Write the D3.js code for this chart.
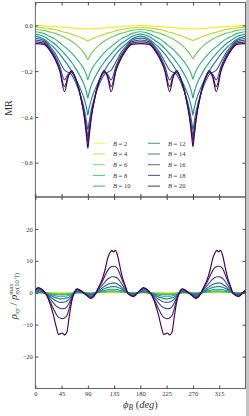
<!DOCTYPE html>
<html>
<head>
<meta charset="utf-8">
<script src="https://cdn.jsdelivr.net/npm/d3@7"></script>
<style>
  body { margin: 0; background: #fff; }
  svg text { font-family: "Liberation Serif", "DejaVu Serif", serif; fill: #333; }
</style>
</head>
<body>
<div id="chart"></div>
<script>
// field values (T), one curve each
const fields = [2, 4, 6, 8, 10, 12, 14, 16, 18, 20];

// top panel: MR vs phi_B
const mrAngles = [0, 15, 25, 33, 42, 50, 56, 62, 70, 78, 84, 88, 90,
  92, 96, 102, 110, 118, 124, 130, 138, 147, 155, 165, 180,
  195, 205, 213, 222, 230, 236, 242, 250, 258, 264, 268, 270,
  272, 276, 282, 290, 298, 304, 310, 318, 327, 335, 345, 360];

const mrB2 = [0, -0.002, -0.004, -0.005, -0.007, -0.009, -0.010, -0.011, -0.013, -0.014, -0.015, -0.016, -0.016,
  -0.016, -0.015, -0.014, -0.013, -0.011, -0.010, -0.009, -0.007, -0.005, -0.004, -0.002, 0,
  -0.002, -0.004, -0.005, -0.007, -0.009, -0.010, -0.011, -0.013, -0.014, -0.015, -0.016, -0.016,
  -0.016, -0.015, -0.014, -0.013, -0.011, -0.010, -0.009, -0.007, -0.005, -0.004, -0.002, 0];
const mrB4 = [-0.008, -0.011, -0.014, -0.018, -0.024, -0.030, -0.034, -0.039, -0.045, -0.054, -0.060, -0.066, -0.068,
  -0.066, -0.060, -0.054, -0.045, -0.039, -0.034, -0.030, -0.024, -0.018, -0.014, -0.011, -0.008,
  -0.011, -0.014, -0.018, -0.024, -0.030, -0.034, -0.039, -0.045, -0.054, -0.060, -0.064, -0.066,
  -0.064, -0.060, -0.054, -0.045, -0.039, -0.034, -0.030, -0.024, -0.018, -0.014, -0.011, -0.008];
const mrB6 = [-0.018, -0.022, -0.029, -0.034, -0.043, -0.052, -0.060, -0.069, -0.084, -0.104, -0.122, -0.141, -0.150,
  -0.141, -0.122, -0.104, -0.084, -0.069, -0.060, -0.052, -0.043, -0.034, -0.029, -0.022, -0.018,
  -0.022, -0.029, -0.034, -0.043, -0.052, -0.060, -0.069, -0.084, -0.104, -0.122, -0.138, -0.146,
  -0.138, -0.122, -0.104, -0.084, -0.069, -0.060, -0.052, -0.043, -0.034, -0.029, -0.022, -0.018];
const mrB8 = [-0.028, -0.036, -0.049, -0.059, -0.076, -0.093, -0.105, -0.120, -0.143, -0.170, -0.195, -0.220, -0.237,
  -0.220, -0.195, -0.170, -0.143, -0.120, -0.105, -0.093, -0.076, -0.059, -0.049, -0.036, -0.028,
  -0.036, -0.049, -0.059, -0.076, -0.093, -0.105, -0.120, -0.143, -0.170, -0.195, -0.219, -0.235,
  -0.219, -0.195, -0.170, -0.143, -0.120, -0.105, -0.093, -0.076, -0.059, -0.049, -0.036, -0.028];
const mrB10 = [-0.038, -0.049, -0.066, -0.080, -0.102, -0.124, -0.141, -0.161, -0.191, -0.228, -0.261, -0.295, -0.317,
  -0.295, -0.261, -0.228, -0.191, -0.161, -0.141, -0.124, -0.102, -0.080, -0.066, -0.049, -0.038,
  -0.049, -0.066, -0.080, -0.102, -0.124, -0.141, -0.161, -0.191, -0.228, -0.261, -0.295, -0.317,
  -0.295, -0.261, -0.228, -0.191, -0.161, -0.141, -0.124, -0.102, -0.080, -0.066, -0.049, -0.038];
const mrB12 = [-0.047, -0.061, -0.082, -0.099, -0.126, -0.154, -0.175, -0.199, -0.237, -0.282, -0.323, -0.364, -0.392,
  -0.364, -0.323, -0.282, -0.237, -0.199, -0.175, -0.154, -0.126, -0.099, -0.082, -0.061, -0.047,
  -0.061, -0.082, -0.099, -0.126, -0.154, -0.175, -0.199, -0.237, -0.282, -0.323, -0.364, -0.392,
  -0.364, -0.323, -0.282, -0.237, -0.199, -0.175, -0.154, -0.126, -0.099, -0.082, -0.061, -0.047];
const mrB14 = [-0.056, -0.066, -0.092, -0.118, -0.160, -0.196, -0.205, -0.215, -0.255, -0.310, -0.368, -0.425, -0.455,
  -0.425, -0.368, -0.310, -0.255, -0.215, -0.205, -0.196, -0.160, -0.118, -0.092, -0.066, -0.056,
  -0.066, -0.092, -0.118, -0.160, -0.196, -0.205, -0.215, -0.255, -0.310, -0.368, -0.425, -0.457,
  -0.425, -0.368, -0.310, -0.255, -0.215, -0.205, -0.196, -0.160, -0.118, -0.092, -0.066, -0.056];
const mrB16 = [-0.064, -0.072, -0.100, -0.130, -0.180, -0.238, -0.214, -0.206, -0.242, -0.312, -0.385, -0.452, -0.487,
  -0.452, -0.385, -0.312, -0.242, -0.206, -0.214, -0.238, -0.180, -0.130, -0.100, -0.072, -0.064,
  -0.072, -0.100, -0.130, -0.180, -0.238, -0.214, -0.206, -0.242, -0.312, -0.385, -0.452, -0.485,
  -0.452, -0.385, -0.312, -0.242, -0.206, -0.214, -0.238, -0.180, -0.130, -0.100, -0.072, -0.064];
const mrB18 = [-0.072, -0.078, -0.106, -0.138, -0.192, -0.268, -0.222, -0.203, -0.240, -0.315, -0.395, -0.472, -0.510,
  -0.472, -0.395, -0.315, -0.240, -0.203, -0.222, -0.268, -0.192, -0.138, -0.106, -0.078, -0.072,
  -0.078, -0.106, -0.138, -0.192, -0.268, -0.222, -0.203, -0.240, -0.315, -0.395, -0.470, -0.506,
  -0.470, -0.395, -0.315, -0.240, -0.203, -0.222, -0.268, -0.192, -0.138, -0.106, -0.078, -0.072];
const mrB20 = [-0.080, -0.083, -0.110, -0.145, -0.200, -0.290, -0.228, -0.198, -0.238, -0.318, -0.402, -0.492, -0.537,
  -0.492, -0.402, -0.318, -0.238, -0.198, -0.228, -0.290, -0.200, -0.145, -0.110, -0.083, -0.080,
  -0.083, -0.110, -0.145, -0.200, -0.290, -0.228, -0.198, -0.238, -0.318, -0.402, -0.488, -0.530,
  -0.488, -0.402, -0.318, -0.238, -0.198, -0.228, -0.290, -0.200, -0.145, -0.110, -0.083, -0.080];
const mrSeries = [mrB2, mrB4, mrB6, mrB8, mrB10, mrB12, mrB14, mrB16, mrB18, mrB20];

// bottom panel: normalised Hall resistivity vs phi_B
const rhoAngles = [0, 5, 11, 19, 25, 31, 36, 40, 43, 46, 50, 54, 58, 62, 66, 72, 80, 88, 95, 102,
  108, 114, 120, 124, 128, 131, 134, 137, 141, 145, 149, 154, 159, 168, 176,
  180, 185, 191, 199, 205, 211, 216, 220, 223, 226, 230, 234, 238, 242, 246, 252, 260, 268, 275, 282,
  288, 294, 300, 304, 308, 311, 314, 317, 321, 325, 329, 334, 339, 348, 356, 360];

const rhoB2 = [0, 0, 0, -0.01, -0.02, -0.03, -0.04, -0.04, -0.04, -0.04, -0.04, -0.04, -0.03, -0.02, -0.01, 0, 0, 0, -0.01, 0,
  0.01, 0.02, 0.03, 0.04, 0.04, 0.04, 0.04, 0.04, 0.04, 0.03, 0.02, 0.01, 0, 0, 0,
  0, 0, 0, -0.01, -0.02, -0.03, -0.04, -0.04, -0.04, -0.04, -0.04, -0.04, -0.03, -0.02, -0.01, 0, 0, 0, -0.01, 0,
  0.01, 0.02, 0.03, 0.04, 0.04, 0.04, 0.04, 0.04, 0.04, 0.03, 0.02, 0.01, 0, 0, 0, 0];
const rhoB4 = [0.02, 0.02, 0, -0.03, -0.07, -0.11, -0.14, -0.15, -0.15, -0.15, -0.15, -0.14, -0.11, -0.07, -0.03, 0, 0, -0.02, -0.04, -0.02,
  0.03, 0.07, 0.11, 0.14, 0.15, 0.15, 0.15, 0.15, 0.14, 0.11, 0.07, 0.04, 0, -0.02, 0,
  0.02, 0.02, 0, -0.03, -0.07, -0.11, -0.14, -0.15, -0.15, -0.15, -0.15, -0.14, -0.11, -0.07, -0.03, 0, 0, -0.02, -0.04, -0.02,
  0.03, 0.07, 0.11, 0.14, 0.15, 0.15, 0.15, 0.15, 0.14, 0.11, 0.07, 0.04, 0, -0.02, 0, 0.02];
const rhoB6 = [0.05, 0.05, 0, -0.05, -0.15, -0.22, -0.27, -0.3, -0.3, -0.3, -0.3, -0.27, -0.22, -0.15, -0.05, 0, 0, -0.05, -0.08, -0.03,
  0.05, 0.15, 0.22, 0.27, 0.3, 0.3, 0.3, 0.3, 0.27, 0.22, 0.15, 0.08, 0, -0.05, 0,
  0.05, 0.05, 0, -0.05, -0.15, -0.22, -0.27, -0.3, -0.3, -0.3, -0.3, -0.27, -0.22, -0.15, -0.05, 0, 0, -0.05, -0.08, -0.03,
  0.05, 0.15, 0.22, 0.27, 0.3, 0.3, 0.3, 0.3, 0.27, 0.22, 0.15, 0.08, 0, -0.05, 0, 0.05];
const rhoB8 = [0.1, 0.1, 0, -0.1, -0.3, -0.45, -0.55, -0.6, -0.6, -0.6, -0.6, -0.55, -0.45, -0.3, -0.1, 0.05, 0, -0.1, -0.15, -0.05,
  0.1, 0.3, 0.45, 0.55, 0.6, 0.6, 0.6, 0.6, 0.55, 0.45, 0.3, 0.15, 0, -0.1, 0,
  0.1, 0.1, 0, -0.1, -0.3, -0.45, -0.55, -0.6, -0.6, -0.6, -0.6, -0.55, -0.45, -0.3, -0.1, 0.05, 0, -0.1, -0.15, -0.05,
  0.1, 0.3, 0.45, 0.55, 0.6, 0.6, 0.6, 0.6, 0.55, 0.45, 0.3, 0.15, 0, -0.1, 0, 0.1];
const rhoB10 = [0.2, 0.2, 0.1, -0.2, -0.5, -0.8, -1.0, -1.1, -1.1, -1.1, -1.1, -1.0, -0.8, -0.5, -0.2, 0.1, 0, -0.2, -0.3, -0.1,
  0.2, 0.5, 0.8, 1.0, 1.1, 1.1, 1.1, 1.1, 1.0, 0.8, 0.6, 0.3, 0, -0.2, 0,
  0.2, 0.2, 0.1, -0.2, -0.5, -0.8, -1.0, -1.1, -1.1, -1.1, -1.1, -1.0, -0.8, -0.5, -0.2, 0.1, 0, -0.2, -0.3, -0.1,
  0.2, 0.5, 0.8, 1.0, 1.1, 1.1, 1.1, 1.1, 1.0, 0.8, 0.6, 0.3, 0, -0.2, 0, 0.2];
const rhoB12 = [0.3, 0.4, 0.2, -0.3, -0.8, -1.3, -1.6, -1.8, -1.9, -1.9, -1.8, -1.6, -1.3, -0.8, -0.3, 0.3, 0.1, -0.3, -0.5, -0.2,
  0.4, 0.9, 1.4, 1.7, 1.8, 1.9, 1.9, 1.9, 1.7, 1.4, 1.0, 0.5, 0, -0.3, 0,
  0.3, 0.4, 0.2, -0.3, -0.8, -1.3, -1.6, -1.8, -1.9, -1.9, -1.8, -1.6, -1.3, -0.8, -0.3, 0.3, 0.1, -0.3, -0.5, -0.2,
  0.4, 0.9, 1.4, 1.7, 1.8, 1.9, 1.9, 1.9, 1.7, 1.4, 1.0, 0.5, 0, -0.3, 0, 0.3];
const rhoB14 = [0.4, 0.7, 0.4, -0.4, -1.2, -2.0, -2.6, -2.9, -3.0, -3.0, -2.9, -2.6, -2.0, -1.1, -0.3, 0.5, 0.2, -0.4, -0.8, -0.3,
  0.6, 1.4, 2.2, 2.6, 2.9, 3.0, 3.0, 3.0, 2.7, 2.2, 1.5, 0.7, -0.1, -0.5, 0,
  0.4, 0.7, 0.4, -0.4, -1.2, -2.0, -2.6, -2.9, -3.0, -3.0, -2.9, -2.6, -2.0, -1.1, -0.3, 0.5, 0.2, -0.4, -0.8, -0.3,
  0.6, 1.4, 2.2, 2.6, 2.9, 3.0, 3.0, 3.0, 2.7, 2.2, 1.5, 0.7, -0.1, -0.5, 0, 0.4];
const rhoB16 = [0.6, 1.1, 0.7, -0.5, -1.8, -3.2, -4.2, -4.7, -4.9, -5.0, -4.9, -4.4, -3.2, -1.6, -0.3, 0.8, 0.3, -0.6, -1.2, -0.4,
  1.0, 2.2, 3.5, 4.3, 4.8, 5.0, 5.0, 4.9, 4.5, 3.6, 2.5, 1.1, -0.2, -0.8, 0.1,
  0.6, 1.1, 0.7, -0.5, -1.8, -3.2, -4.2, -4.7, -4.9, -5.0, -4.9, -4.4, -3.2, -1.6, -0.3, 0.8, 0.3, -0.6, -1.2, -0.4,
  1.0, 2.2, 3.5, 4.3, 4.8, 5.0, 5.0, 4.9, 4.5, 3.6, 2.5, 1.1, -0.2, -0.8, 0.1, 0.6];
const rhoB18 = [0.8, 1.4, 1.0, -0.5, -2.6, -5.0, -6.8, -7.7, -8.0, -8.1, -7.9, -7.2, -5.0, -2.2, -0.2, 1.1, 0.4, -0.8, -1.6, -0.6,
  1.4, 3.2, 5.6, 7.0, 7.9, 8.2, 8.3, 8.2, 7.5, 5.8, 3.9, 1.8, -0.2, -1.1, 0.1,
  0.8, 1.4, 1.0, -0.5, -2.6, -5.0, -6.8, -7.7, -8.0, -8.1, -7.9, -7.2, -5.0, -2.2, -0.2, 1.1, 0.4, -0.8, -1.6, -0.6,
  1.4, 3.2, 5.6, 7.0, 7.9, 8.2, 8.3, 8.2, 7.5, 5.8, 3.9, 1.8, -0.2, -1.1, 0.1, 0.8];
const rhoB20 = [0.9, 1.6, 1.1, -0.6, -3.3, -7.0, -10.8, -13.1, -12.8, -12.6, -13.2, -12.4, -7.6, -3.0, -0.3, 1.2, 0.4, -0.8, -1.8, -0.7,
  1.6, 3.9, 7.6, 10.8, 12.6, 13.3, 12.8, 13.3, 11.6, 8.2, 5.0, 2.2, -0.2, -1.2, 0.1,
  0.9, 1.6, 1.1, -0.6, -3.3, -7.0, -10.8, -13.1, -12.8, -12.6, -13.2, -12.4, -7.6, -3.0, -0.3, 1.2, 0.4, -0.8, -1.8, -0.7,
  1.6, 3.9, 7.6, 10.8, 12.6, 13.3, 12.8, 13.3, 11.6, 8.2, 5.0, 2.2, -0.2, -1.2, 0.1, 0.9];
const rhoSeries = [rhoB2, rhoB4, rhoB6, rhoB8, rhoB10, rhoB12, rhoB14, rhoB16, rhoB18, rhoB20];

const xTicks = [0, 45, 90, 135, 180, 225, 270, 315];
const mrTicks = [-0.6, -0.4, -0.2, 0.0];
const rhoTicks = [-20, -10, 0, 10, 20];

const W = 249, H = 416;
const left = 35.3, right = 245.5;
const topY0 = 2.5, midY = 197, botY = 388.5;

const svg = d3.select("#chart").append("svg")
  .attr("width", W).attr("height", H);

svg.append("rect").attr("x", 246).attr("y", 0).attr("width", 3).attr("height", H).attr("fill", "#c4c4c4");

const x = d3.scaleLinear().domain([0, 360]).range([left, right]);
const yMR = d3.scaleLinear().domain([-0.75, 0.1]).range([midY, topY0]);
const yRho = d3.scaleLinear().domain([-30, 30]).range([botY, midY]);

const color = (i) => d3.interpolateViridis(1 - i / 9);

function panel(y, angles, series, ticks, fmt, y0, y1, showX, id) {
  const g = svg.append("g");
  svg.append("clipPath").attr("id", id).append("rect")
    .attr("x", left).attr("y", y0).attr("width", right - left).attr("height", y1 - y0);

  const line = (vals) => d3.line()
    .x((d, i) => x(angles[i]))
    .y(d => y(d))
    .curve(d3.curveMonotoneX)(vals);

  g.append("g").attr("clip-path", `url(#${id})`)
    .selectAll("path").data(series).join("path")
    .attr("d", line)
    .attr("fill", "none")
    .attr("stroke", (d, i) => color(i))
    .attr("stroke-width", 1.15);

  const ax = (a, tx, ty) => {
    const s = g.append("g").attr("transform", `translate(${tx},${ty})`).call(a);
    s.select(".domain").remove();
    s.attr("color", "#444").attr("font-size", 6.5).attr("font-family", null);
    return s;
  };
  ax(d3.axisLeft(y).tickValues(ticks).tickFormat(fmt).tickSizeInner(-3).tickSizeOuter(0).tickPadding(2.5), left, 0);
  ax(d3.axisRight(y).tickValues(ticks).tickFormat("").tickSizeInner(-3).tickSizeOuter(0), right, 0);
  ax(d3.axisTop(x).tickValues(xTicks).tickFormat("").tickSizeInner(-3).tickSizeOuter(0), 0, y0);
  ax(d3.axisBottom(x).tickValues(xTicks).tickFormat(showX ? d3.format("d") : "")
    .tickSizeInner(-3).tickSizeOuter(0).tickPadding(3), 0, y1);

  g.append("rect").attr("x", left).attr("y", y0).attr("width", right - left).attr("height", y1 - y0)
    .attr("fill", "none").attr("stroke", "#444").attr("stroke-width", 0.8);
  return g;
}

panel(yMR, mrAngles, mrSeries, mrTicks, d3.format(".1f"), topY0, midY, false, "clipTop");
panel(yRho, rhoAngles, rhoSeries, rhoTicks, d3.format("d"), midY, botY, true, "clipBot");

// legend
const legend = svg.append("g");
fields.forEach((b, i) => {
  const col = Math.floor(i / 5), row = i % 5;
  const lx = col === 0 ? 93 : 148;
  const ly = 143.3 + row * 10.7;
  legend.append("line").attr("x1", lx).attr("x2", lx + 12).attr("y1", ly).attr("y2", ly)
    .attr("stroke", color(i)).attr("stroke-width", 1.1).attr("stroke-opacity", 0.8);
  const t = legend.append("text").attr("x", lx + 20).attr("y", ly + 2.2).attr("font-size", 6.5);
  t.append("tspan").attr("font-style", "italic").text("B");
  t.append("tspan").text(" = " + b);
});

// axis labels
svg.append("text")
  .attr("transform", `translate(12,108) rotate(-90)`)
  .attr("text-anchor", "middle").attr("font-size", 10).text("MR");

const rl = svg.append("text")
  .attr("transform", `translate(16.5,296) rotate(-90)`)
  .attr("text-anchor", "middle").attr("font-size", 10.5);
rl.append("tspan").attr("font-style", "italic").text("ρ");
rl.append("tspan").attr("font-style", "italic").attr("font-size", 7).attr("dy", 2).text("xy");
rl.append("tspan").attr("dy", -2).text(" / ");
rl.append("tspan").attr("font-style", "italic").text("ρ");
const sup = rl.append("tspan").attr("font-size", 6.5).attr("dy", -4).text("max");
const subA = rl.append("tspan").attr("font-style", "italic").attr("font-size", 6.5).attr("dy", 6.5).text("xy");
subA.attr("dx", -sup.node().getComputedTextLength());
rl.append("tspan").attr("font-size", 6.5).text("(10 T)");

const xl = svg.append("text")
  .attr("x", (left + right) / 2).attr("y", 407.5)
  .attr("text-anchor", "middle").attr("font-size", 10.5);
xl.append("tspan").attr("font-style", "italic").text("ϕ");
xl.append("tspan").attr("font-style", "italic").attr("font-size", 7.5).attr("dy", 2).text("B");
xl.append("tspan").attr("dy", -2).text(" (");
xl.append("tspan").attr("font-style", "italic").text("deg");
xl.append("tspan").text(")");
</script>
</body>
</html>
